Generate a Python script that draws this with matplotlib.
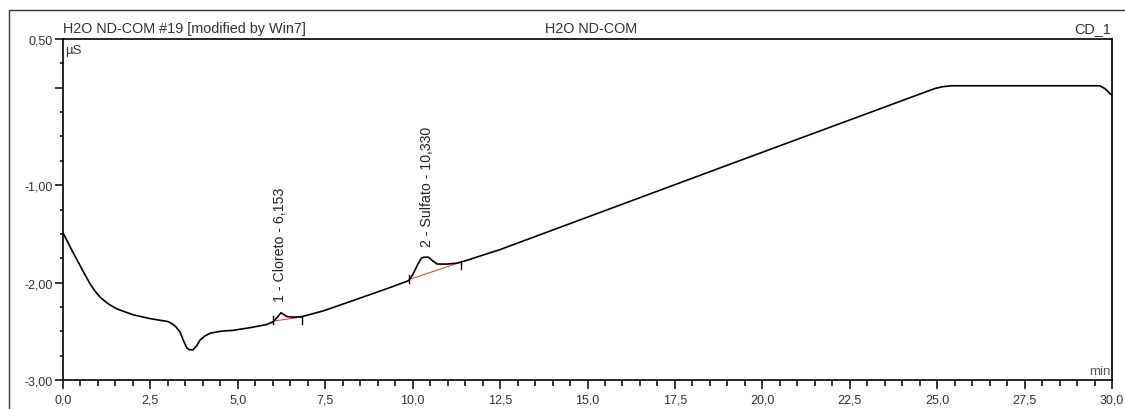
import matplotlib
matplotlib.use("Agg")
import matplotlib.pyplot as plt
from matplotlib.ticker import MultipleLocator, FixedLocator, FuncFormatter
from matplotlib.patches import Rectangle

plt.rcParams['font.family'] = ['Liberation Sans', 'DejaVu Sans']
plt.rcParams['axes.unicode_minus'] = False

# ---- data ----
time_min = [0.00, 0.10, 0.20, 0.30, 0.45, 0.60, 0.77, 0.90, 1.06, 1.30, 1.54, 2.00, 2.49,
            3.00, 3.11, 3.22, 3.35, 3.45, 3.54, 3.62, 3.72, 3.82, 3.92, 4.05, 4.21,
            4.50, 4.87, 5.40, 5.83, 6.02, 6.12, 6.23, 6.32, 6.42, 6.60, 6.83, 7.45,
            8.41, 9.36, 9.89, 10.00, 10.15, 10.25, 10.31, 10.45, 10.55, 10.70, 11.00,
            11.27, 11.38, 11.65, 12.51, 19.19, 24.92, 25.15, 25.40, 29.65, 29.80, 30.00]
signal_uS = [-1.49, -1.56, -1.63, -1.70, -1.80, -1.90, -2.01, -2.08, -2.15, -2.22, -2.27, -2.33, -2.37,
             -2.40, -2.42, -2.45, -2.51, -2.60, -2.67, -2.69, -2.69, -2.65, -2.59, -2.55, -2.52,
             -2.50, -2.49, -2.46, -2.43, -2.40, -2.36, -2.31, -2.33, -2.35, -2.355, -2.35, -2.29,
             -2.17, -2.05, -1.98, -1.92, -1.81, -1.75, -1.74, -1.74, -1.77, -1.81, -1.81,
             -1.80, -1.79, -1.76, -1.66, -0.77, -0.01, 0.01, 0.02, 0.02, -0.01, -0.08]

peak_numbers = [1, 2]
peak_names = ["Cloreto", "Sulfato"]
peak_rt = ["6,153", "10,330"]
peak_apex_t = [6.21, 10.41]
peak_apex_v = [-2.31, -1.74]
peak_start_t = [6.02, 9.89]
peak_start_v = [-2.395, -1.97]
peak_end_t = [6.83, 11.38]
peak_end_v = [-2.354, -1.79]

x_major = [0.0, 2.5, 5.0, 7.5, 10.0, 12.5, 15.0, 17.5, 20.0, 22.5, 25.0, 27.5, 30.0]
y_major = [0.5, 0.0, -1.0, -2.0, -3.0]
y_labels = ["0,50", "", "-1,00", "-2,00", "-3,00"]

title_left = "H2O ND-COM #19 [modified by Win7]"
title_center = "H2O ND-COM"
title_right = "CD_1"

# ---- figure ----
W, H = 1125, 410
fig = plt.figure(figsize=(W / 100, H / 100), dpi=100)
ax = fig.add_axes([63 / W, 1 - 381 / H, (1112 - 63) / W, (381 - 40) / H])

ax.plot(time_min, signal_uS, color='black', lw=1.2, solid_joinstyle='miter', zorder=3)

# peak baselines and delimiters
for i in range(len(peak_numbers)):
    ax.plot([peak_start_t[i], peak_end_t[i]], [peak_start_v[i], peak_end_v[i]],
            color='#d84a4a', lw=0.8, zorder=2)
    ax.plot([peak_start_t[i]] * 2, [peak_start_v[i] - 0.03, peak_start_v[i] + 0.05],
            color='black', lw=1.0, zorder=3)
    ax.plot([peak_end_t[i]] * 2, [peak_end_v[i] + 0.01, peak_end_v[i] - 0.07],
            color='black', lw=1.0, zorder=3)
    ax.text(peak_apex_t[i], peak_apex_v[i] + 0.12,
            f"{peak_numbers[i]} - {peak_names[i]} - {peak_rt[i]}",
            rotation=90, ha='center', va='bottom', fontsize=10.2, color='#222222')

ax.set_xlim(0, 30)
ax.set_ylim(-3, 0.5)

ax.xaxis.set_major_locator(FixedLocator(x_major))
ax.xaxis.set_minor_locator(MultipleLocator(0.5))
ax.xaxis.set_major_formatter(FuncFormatter(lambda v, p: f"{v:.1f}".replace('.', ',')))
ax.yaxis.set_major_locator(FixedLocator(y_major))
ax.yaxis.set_minor_locator(MultipleLocator(0.25))
ax.set_yticklabels(y_labels)

ax.tick_params(axis='x', which='major', direction='out', length=6.5, width=1.1,
               labelsize=9, pad=3, colors='black', labelcolor='#333333')
ax.tick_params(axis='x', which='minor', direction='out', length=4, width=1.1)
ax.tick_params(axis='y', which='major', direction='out', length=6, width=1.1,
               labelsize=9, pad=1.5, colors='black', labelcolor='#333333')
ax.tick_params(axis='y', which='minor', direction='out', length=2, width=1.1)

for s in ax.spines.values():
    s.set_linewidth(1.2)
    s.set_color('black')

ty = 1.012
ax.text(0.0, ty, title_left, transform=ax.transAxes, ha='left', va='bottom',
        fontsize=10.4, color='#333333')
ax.text(0.503, ty, title_center, transform=ax.transAxes, ha='center', va='bottom',
        fontsize=10.4, color='#333333')
ax.text(0.999, ty, title_right, transform=ax.transAxes, ha='right', va='bottom',
        fontsize=10.4, color='#333333')
ax.text(0.002, 0.985, "µS", transform=ax.transAxes, ha='left', va='top',
        fontsize=9.5, color='#333333')
ax.text(0.999, 0.008, "min", transform=ax.transAxes, ha='right', va='bottom',
        fontsize=9.5, color='#555555')

# outer frame
fig.patches.append(Rectangle((9 / W, -0.1), 1.2, 1 - 11 / H + 0.1, transform=fig.transFigure,
                             fill=False, edgecolor='#333333', lw=1.0))

fig.savefig("out.png", dpi=100, facecolor='white')
